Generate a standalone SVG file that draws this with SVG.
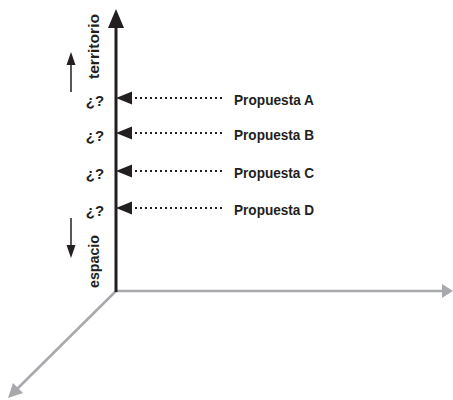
<svg xmlns="http://www.w3.org/2000/svg" width="453" height="400" viewBox="0 0 453 400">
<style>
.lbl{font-family:"Liberation Sans",Arial,sans-serif;font-weight:bold;font-size:14px;fill:#231f20}
.q{font-family:"Liberation Sans",Arial,sans-serif;font-weight:bold;font-size:15px;fill:#231f20}
.ax{font-family:"Liberation Sans",Arial,sans-serif;font-weight:bold;font-size:15px;fill:#231f20}
.dot{stroke:#231f20;stroke-width:2;stroke-dasharray:2 3;fill:none}
.gray{stroke:#a7a9ac;stroke-width:2.5;fill:none}
</style>
<rect width="453" height="400" fill="#fff"/>
<g id="axes">
<line class="gray" x1="116" y1="291" x2="444" y2="291"/>
<polygon points="453,291 442,284 442,298" fill="#a7a9ac"/>
<line class="gray" x1="116" y1="291" x2="15" y2="391"/>
<polygon points="8,398 13,383 23,393" fill="#a7a9ac"/>
<line x1="116" y1="292" x2="116" y2="24" stroke="#231f20" stroke-width="3"/>
<polygon points="116,9 108,28 124,28" fill="#231f20"/>
</g>
<g id="axis-labels">
<text class="ax" transform="translate(99,79) rotate(-90)" textLength="65" lengthAdjust="spacingAndGlyphs">territorio</text>
<text class="ax" transform="translate(99,288) rotate(-90)" textLength="53" lengthAdjust="spacingAndGlyphs">espacio</text>
<line x1="71" y1="92" x2="71" y2="62" stroke="#231f20" stroke-width="1.5"/>
<polygon points="71,52 66.5,65 75.5,65" fill="#231f20"/>
<line x1="71" y1="218" x2="71" y2="248" stroke="#231f20" stroke-width="1.5"/>
<polygon points="71,258 66.5,245 75.5,245" fill="#231f20"/>
</g>
<g id="connectors">
<line class="dot" x1="135" y1="98" x2="224" y2="98"/>
<polygon points="116,98 132,91.5 132,104.5" fill="#231f20"/>
<line class="dot" x1="135" y1="133" x2="224" y2="133"/>
<polygon points="116,133 132,126.5 132,139.5" fill="#231f20"/>
<line class="dot" x1="135" y1="171" x2="224" y2="171"/>
<polygon points="116,171 132,164.5 132,177.5" fill="#231f20"/>
<line class="dot" x1="135" y1="208" x2="224" y2="208"/>
<polygon points="116,208 132,201.5 132,214.5" fill="#231f20"/>
</g>
<g id="propuesta-a"><text class="lbl" x="234" y="105" textLength="80" lengthAdjust="spacingAndGlyphs">Propuesta A</text><text class="q" x="95" y="106" text-anchor="middle">¿?</text></g>
<g id="propuesta-b"><text class="lbl" x="234" y="140" textLength="80" lengthAdjust="spacingAndGlyphs">Propuesta B</text><text class="q" x="95" y="141" text-anchor="middle">¿?</text></g>
<g id="propuesta-c"><text class="lbl" x="234" y="178" textLength="80" lengthAdjust="spacingAndGlyphs">Propuesta C</text><text class="q" x="95" y="179" text-anchor="middle">¿?</text></g>
<g id="propuesta-d"><text class="lbl" x="234" y="215" textLength="80" lengthAdjust="spacingAndGlyphs">Propuesta D</text><text class="q" x="95" y="216" text-anchor="middle">¿?</text></g>
</svg>
